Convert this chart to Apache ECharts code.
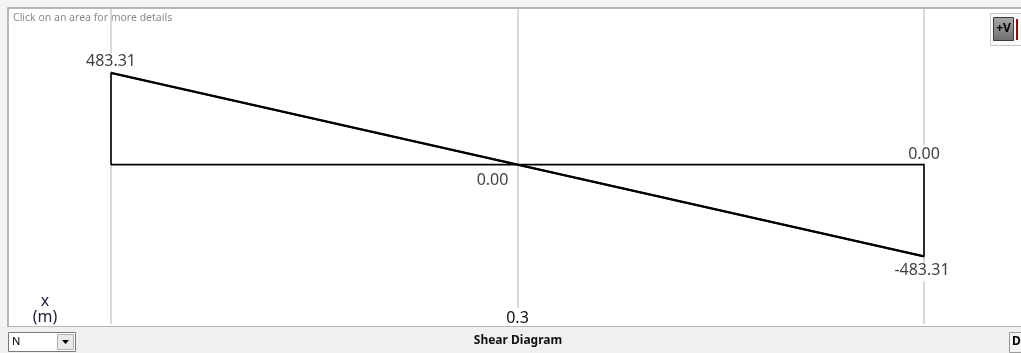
<!DOCTYPE html>
<html>
<head>
<meta charset="utf-8">
<title>Shear Diagram</title>
<script src="https://cdn.jsdelivr.net/npm/echarts@6/dist/echarts.min.js"></script>
<style>
  html, body { margin: 0; padding: 0; background: #f4f4f4; }
  #chart { width: 1021px; height: 353px; }
</style>
</head>
<body>
<div id="chart"></div>
<script>
// Beam span positions (m) and shear values (N)
const spanX = [0, 0.6];
const shearAtEnds = [483.31, -483.31];
const zeroCrossingX = 0.3;
const xTickLabels = ['0.3'];
const axisTitle = 'x\n(m)';
const diagramTitle = 'Shear Diagram';
const hintText = 'Click on an area for more details';
const unitOption = 'N';

const FONT = '"Noto Sans", "DejaVu Sans", sans-serif';

// Closed outline of the shear area: up the left support, down the slope,
// back up the right support and along the zero line.
const outline = [
  [spanX[0], 0],
  [spanX[0], shearAtEnds[0]],
  [spanX[1], shearAtEnds[1]],
  [spanX[1], 0],
  [spanX[0], 0]
];

const fmt = v => v.toFixed(2);

const labelBase = {
  show: true,
  color: '#0c0c14',
  fontFamily: FONT,
  fontSize: 16,
  backgroundColor: '#fff',
  formatter: p => fmt(p.value[1])
};

const valuePoints = [
  { value: [spanX[0], shearAtEnds[0]], label: { position: 'top', distance: 2, padding: [1, 3, 1, 3] } },
  { value: [zeroCrossingX, 0], label: { position: 'bottom', distance: 8, offset: [-25, 0], padding: [0, 3, 2, 3] } },
  { value: [spanX[1], 0], label: { position: 'top', distance: 2, padding: [2, 3, 0, 3] } },
  { value: [spanX[1], shearAtEnds[1]], label: { position: 'bottom', distance: 6, offset: [-2, 0], padding: [0, 3, 3, 3] } }
];

const chart = echarts.init(document.getElementById('chart'), null, { renderer: 'canvas' });

chart.setOption({
  animation: false,
  backgroundColor: '#f4f4f4',
  grid: { left: 111, right: 97, top: 9, bottom: 27, containLabel: false },
  xAxis: {
    type: 'value',
    min: spanX[0],
    max: spanX[1],
    interval: 0.3,
    axisLine: { show: false },
    axisTick: { show: false },
    splitLine: { show: true, lineStyle: { color: '#cdcdcd', width: 1.5 } },
    axisLabel: {
      inside: true,
      margin: 0,
      color: '#0c0c14',
      fontFamily: FONT,
      fontSize: 16,
      backgroundColor: '#fff',
      padding: [2, 3, 0, 3],
      showMinLabel: true,
      showMaxLabel: true,
      formatter: v => {
        const s = String(Math.round(v * 10) / 10);
        return xTickLabels.includes(s) ? s : '';
      }
    }
  },
  yAxis: {
    type: 'value',
    min: -850,
    max: 820,
    show: false,
    splitLine: { show: false }
  },
  graphic: [
    // plot panel
    { type: 'rect', z: -10, silent: true, shape: { x: 8, y: 8, width: 1020, height: 319 },
      style: { fill: '#ffffff', stroke: '#a0a0a0', lineWidth: 1.5 } },
    // status bar
    { type: 'rect', z: -9, silent: true, shape: { x: 0, y: 327, width: 1021, height: 26 },
      style: { fill: '#f0f0f0' } },
    { type: 'text', silent: true, left: 13, top: 13,
      style: { text: hintText, fill: '#8a8a8a', font: '10.5px ' + FONT } },
    { type: 'text', silent: true, x: 45, y: 309,
      style: { text: axisTitle, fill: '#1c1c3c', font: '16px ' + FONT, align: 'center', verticalAlign: 'middle', lineHeight: 16 } },
    { type: 'text', silent: true, x: 518, y: 341,
      style: { text: diagramTitle, fill: '#111', font: 'bold 12px ' + FONT, align: 'center', verticalAlign: 'middle' } },
    // unit selector
    { type: 'rect', silent: true, shape: { x: 8.5, y: 332.5, width: 67, height: 19 },
      style: { fill: '#fff', stroke: '#7a7a7a', lineWidth: 1 } },
    { type: 'rect', silent: true, shape: { x: 57.5, y: 334.5, width: 16, height: 15 },
      style: { fill: '#eaeaea', stroke: '#b0b0b0', lineWidth: 1 } },
    { type: 'polygon', silent: true, shape: { points: [[62, 340], [69, 340], [65.5, 344]] },
      style: { fill: '#000' } },
    { type: 'text', silent: true, x: 12, y: 342,
      style: { text: unitOption, fill: '#000', font: '11px ' + FONT, verticalAlign: 'middle' } },
    // right-hand button
    { type: 'rect', silent: true, shape: { x: 1009.5, y: 332.5, width: 14, height: 20 },
      style: { fill: '#f4f4f4', stroke: '#9a9a9a', lineWidth: 1 } },
    { type: 'text', silent: true, x: 1012, y: 342,
      style: { text: 'D', fill: '#000', font: 'bold 12px ' + FONT, verticalAlign: 'middle' } },
    // +V toggle in the corner
    { type: 'rect', silent: true, shape: { x: 990.5, y: 13.5, width: 32, height: 32 },
      style: { fill: '#fafafa', stroke: '#c8c8c8', lineWidth: 1 } },
    { type: 'rect', silent: true, shape: { x: 993.5, y: 17.5, width: 20, height: 23 },
      style: { fill: new echarts.graphic.LinearGradient(0, 0, 0, 1, [
        { offset: 0, color: '#a8a8a8' }, { offset: 1, color: '#6e6e6e' }]), stroke: '#3a3a3a', lineWidth: 1 } },
    { type: 'text', silent: true, x: 1003.5, y: 29,
      style: { text: '+V', fill: '#000', font: 'bold 12px ' + FONT, align: 'center', verticalAlign: 'middle' } },
    { type: 'rect', silent: true, shape: { x: 1016, y: 19, width: 2, height: 21 },
      style: { fill: '#8b1010' } }
  ],
  series: [
    {
      name: 'outline',
      type: 'line',
      data: outline,
      symbol: 'none',
      silent: true,
      lineStyle: { color: '#000', width: 1.6 },
      z: 3
    },
    {
      name: 'shear',
      type: 'line',
      data: [[spanX[0], shearAtEnds[0]], [spanX[1], shearAtEnds[1]]],
      symbol: 'none',
      silent: true,
      lineStyle: { color: '#000', width: 2.2 },
      z: 4
    },
    {
      name: 'values',
      type: 'scatter',
      symbolSize: 0,
      data: valuePoints,
      label: labelBase,
      silent: true,
      z: 5
    }
  ]
});
</script>
</body>
</html>
